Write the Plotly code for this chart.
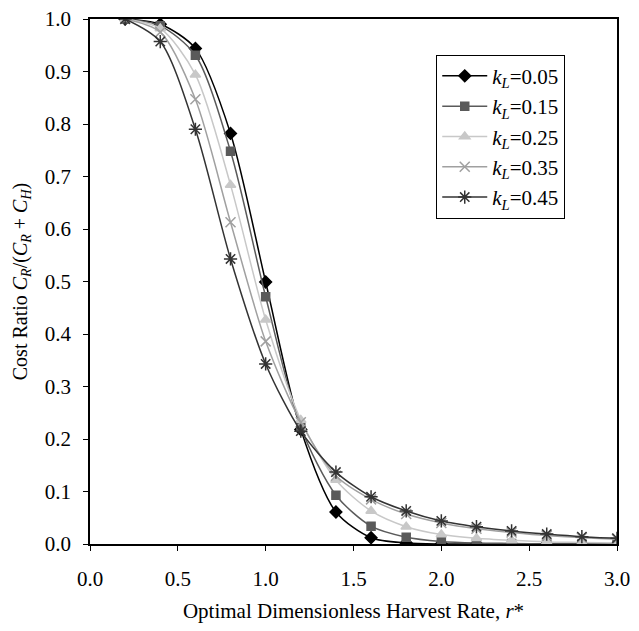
import plotly.graph_objects as go

r = [0.2, 0.4, 0.6, 0.8, 1.0, 1.2, 1.4, 1.6, 1.8, 2.0, 2.2, 2.4, 2.6, 2.8, 3.0]
k005 = [1.0, 0.99, 0.944, 0.782, 0.499, 0.218, 0.061, 0.012, 0.002, 0.0, 0.0, 0.0, 0.0, 0.0, 0.0]
k015 = [1.0, 0.987, 0.931, 0.748, 0.471, 0.222, 0.093, 0.034, 0.013, 0.005, 0.002, 0.001, 0.0, 0.0, 0.0]
k025 = [1.0, 0.982, 0.894, 0.684, 0.427, 0.236, 0.122, 0.063, 0.033, 0.018, 0.011, 0.007, 0.004, 0.003, 0.002]
k035 = [1.0, 0.975, 0.847, 0.613, 0.386, 0.232, 0.13, 0.085, 0.057, 0.04, 0.029, 0.022, 0.016, 0.012, 0.009]
k045 = [1.0, 0.957, 0.79, 0.543, 0.343, 0.215, 0.137, 0.09, 0.063, 0.044, 0.033, 0.025, 0.019, 0.014, 0.011]

labels = ["0.05", "0.15", "0.25", "0.35", "0.45"]
series = [k005, k015, k025, k035, k045]
colors = ["#000000", "#5a5a5a", "#c8c8c8", "#a0a0a0", "#333333"]
symbols = ["diamond", "square", "triangle-up", "x-thin-open", "asterisk-open"]
sizes = [9, 8, 9, 10, 11]

fig = go.Figure()
for lab, ys, col, sym, sz in zip(labels, series, colors, symbols, sizes):
    fig.add_trace(go.Scatter(
        x=r, y=ys, mode="lines+markers",
        name="<i>k<sub>L</sub></i>=" + lab,
        line=dict(color=col, width=1.5, shape="spline", smoothing=0.8),
        marker=dict(symbol=sym, size=sz, color=col, line=dict(color=col, width=1.5)),
    ))

# page body has an 8px margin: keep the figure inside the window
font = "Liberation Serif"
fig.update_layout(
    width=623, height=615,
    margin=dict(l=82, r=14, t=11, b=79),
    paper_bgcolor="white", plot_bgcolor="white",
    font=dict(family=font, size=18, color="black"),
    showlegend=True,
    legend=dict(x=0.657, y=0.932, xanchor="left", yanchor="top",
                bordercolor="black", borderwidth=1, bgcolor="white",
                itemwidth=45,
                font=dict(family=font, size=21), tracegroupgap=0),
    xaxis=dict(range=[0, 3.0], dtick=0.5, tickformat=".1f", automargin=False,
               ticklabeloverflow="allow",
               tickfont=dict(family=font, size=21),
               showline=True, linecolor="black", linewidth=1.5, mirror=True,
               ticks="outside", ticklen=5, tickcolor="black", showgrid=False, zeroline=False,
               ticklabelstandoff=10,
               title=dict(text="Optimal Dimensionless Harvest Rate, <i>r</i>*",
                          font=dict(family=font, size=21), standoff=14)),
    yaxis=dict(range=[0, 1.0], dtick=0.1, tickformat=".1f", automargin=False,
               ticklabeloverflow="allow",
               tickfont=dict(family=font, size=21),
               showline=True, linecolor="black", linewidth=1.5, mirror=True,
               ticks="outside", ticklen=5, tickcolor="black", showgrid=False, zeroline=False,
               ticklabelstandoff=8,
               title=dict(text="Cost Ratio <i>C<sub>R</sub></i>/(<i>C<sub>R</sub></i> + <i>C<sub>H</sub></i>)",
                          font=dict(family=font, size=20), standoff=12)),
)

fig.write_html("out.html")
